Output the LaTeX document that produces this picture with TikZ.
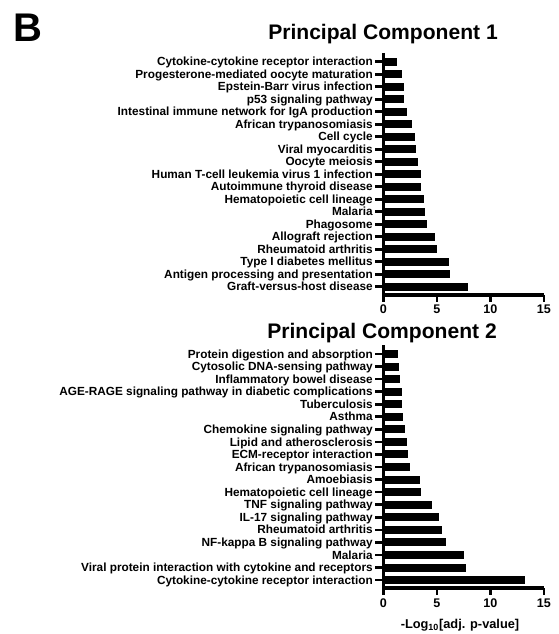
\documentclass[tikz,border=0pt]{standalone}
\usepackage{fontspec}
\setmainfont{Liberation Sans}
\usepackage{tikz}
\usetikzlibrary{positioning}

\tikzset{
  panelletter/.style={anchor=base west, inner sep=0pt, font=\bfseries\fontsize{30}{32}\selectfont},
  charttitle/.style={anchor=base, inner sep=0pt, font=\bfseries\fontsize{15.8}{18}\selectfont},
  pathlabel/.style={anchor=base east, inner sep=0pt, font=\bfseries\fontsize{8.85}{10}\selectfont},
  ticklabel/.style={anchor=base, inner sep=0pt, font=\bfseries\fontsize{9.4}{11}\selectfont},
  axistitle/.style={anchor=base, inner sep=0pt, font=\bfseries\fontsize{9.6}{12}\selectfont},
  axisline/.style={line width=2.5pt, line join=miter},
  ytick/.style={line width=2pt},
  xtick/.style={line width=2pt},
}

\begin{document}
\begin{tikzpicture}[x=0.75pt, y=-0.75pt]
  \useasboundingbox (0,0) rectangle (558,634);

  % Panel letter and titles
  \node[panelletter] (panel) at (13,42) {B};
  \node[charttitle] (titleA) at (383,40) {Principal Component 1};
  \node[charttitle] (titleB) at (382,338) {Principal Component 2};

  % Principal component 1 bars
  \foreach \lab/\val [count=\i from 0] in {
      Cytokine-cytokine receptor interaction/1.31,
      Progesterone-mediated oocyte maturation/1.77,
      Epstein-Barr virus infection/1.93,
      p53 signaling pathway/1.96,
      Intestinal immune network for IgA production/2.24,
      African trypanosomiasis/2.68,
      Cell cycle/2.99,
      Viral myocarditis/3.02,
      Oocyte meiosis/3.21,
      Human T-cell leukemia virus 1 infection/3.52,
      Autoimmune thyroid disease/3.55,
      Hematopoietic cell lineage/3.77,
      Malaria/3.89,
      Phagosome/4.11,
      Allograft rejection/4.82,
      Rheumatoid arthritis/5.04,
      Type I diabetes mellitus/6.10,
      Antigen processing and presentation/6.22,
      Graft-versus-host disease/7.94} {
    \node[pathlabel] (pcA-\i) at (373, {61.7+12.5*\i+4.1}) {\lab};
    \draw[ytick] (375, {61.7+12.5*\i}) -- (383.3, {61.7+12.5*\i});
    \fill (383.3, {61.7+12.5*\i-4}) rectangle ({383.3+10.71*\val}, {61.7+12.5*\i+4});
  }

  % Principal component 1 axes
  \draw[axisline] (383.3,53) -- (383.3,295) -- (544,295);
  \foreach \t in {0,5,10,15} {
    \draw[xtick] ({383.3+10.71*\t},295) -- ++(0,7);
    \node[ticklabel] (tickA-\t) at ({383.3+10.71*\t},313) {\t};
  }

  % Principal component 2 bars
  \foreach \lab/\val [count=\i from 0] in {
      Protein digestion and absorption/1.40,
      Cytosolic DNA-sensing pathway/1.46,
      Inflammatory bowel disease/1.56,
      AGE-RAGE signaling pathway in diabetic complications/1.71,
      Tuberculosis/1.77,
      Asthma/1.81,
      Chemokine signaling pathway/1.99,
      Lipid and atherosclerosis/2.24,
      ECM-receptor interaction/2.27,
      African trypanosomiasis/2.46,
      Amoebiasis/3.42,
      Hematopoietic cell lineage/3.49,
      TNF signaling pathway/4.54,
      IL-17 signaling pathway/5.17,
      Rheumatoid arthritis/5.51,
      NF-kappa B signaling pathway/5.82,
      Malaria/7.56,
      Viral protein interaction with cytokine and receptors/7.69,
      Cytokine-cytokine receptor interaction/13.26} {
    \node[pathlabel] (pcB-\i) at (373, {354+12.56*\i+4.1}) {\lab};
    \draw[ytick] (375, {354+12.56*\i}) -- (383.3, {354+12.56*\i});
    \fill (383.3, {354+12.56*\i-4}) rectangle ({383.3+10.71*\val}, {354+12.56*\i+4});
  }

  % Principal component 2 axes
  \draw[axisline] (383.3,345) -- (383.3,588) -- (544,588);
  \foreach \t in {0,5,10,15} {
    \draw[xtick] ({383.3+10.71*\t},588) -- ++(0,7);
    \node[ticklabel] (tickB-\t) at ({383.3+10.71*\t},607) {\t};
  }
  \node[axistitle] (xlabel) at (460,628) {-Log\textsubscript{10}[adj. p-value]};
\end{tikzpicture}
\end{document}
